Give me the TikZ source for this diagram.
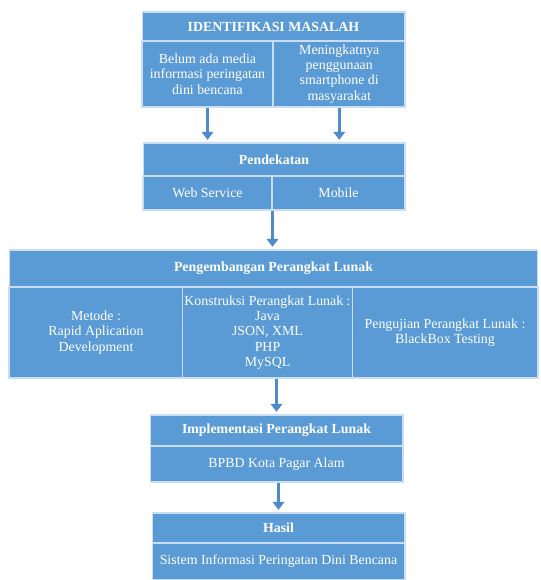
\documentclass[tikz,border=0pt]{standalone}
\usepackage{fontspec}
\setmainfont{Liberation Serif}
\usetikzlibrary{arrows.meta}
\definecolor{boxblue}{HTML}{5B9BD5}
\definecolor{boxline}{HTML}{C9DEF2}
\definecolor{arrowblue}{HTML}{4F8ACB}
\begin{document}
\begin{tikzpicture}[x=0.02cm,y=-0.02cm,
    cell/.style={draw=boxline,line width=0.6pt,fill=boxblue,text=white,
      inner sep=1pt,align=center,font=\fontsize{7.9}{8.7}\selectfont},
    head/.style={cell,font=\fontsize{7.9}{8.7}\selectfont\bfseries},
    flow/.style={draw=arrowblue,line width=1.6pt,shorten >=1.5pt,
      -{Triangle[width=6.5pt,length=4.5pt]}}]
        \useasboundingbox (0,0) rectangle (540,580);
        % identifikasi masalah
        \node[head,minimum width=5.26cm,minimum height=0.58cm] (idhead) at (273.5,26.5) {IDENTIFIKASI MASALAH};
        \node[cell,minimum width=2.62cm,minimum height=1.32cm] (idleft) at (207.5,74) {Belum ada media\\informasi peringatan\\dini bencana};
        \node[cell,minimum width=2.63cm,minimum height=1.32cm] (idright) at (339.25,74) {Meningkatnya\\penggunaan\\smartphone di\\masyarakat};
        % pendekatan
        \node[head,minimum width=5.24cm,minimum height=0.66cm] (pdhead) at (274,159.5) {Pendekatan};
        \node[cell,minimum width=2.58cm,minimum height=0.68cm] (pdleft) at (207.5,193) {Web Service};
        \node[cell,minimum width=2.66cm,minimum height=0.68cm] (pdright) at (338.5,193) {Mobile};
        % pengembangan perangkat lunak
        \node[head,minimum width=10.58cm,minimum height=0.74cm] (pghead) at (273.5,268.5) {Pengembangan Perangkat Lunak};
        \node[cell,minimum width=3.48cm,minimum height=1.82cm] (pgleft) at (96,332.5) {Metode :\\Rapid Aplication\\Development};
        \node[cell,minimum width=3.38cm,minimum height=1.82cm] (pgmid) at (267.5,332.5) {Konstruksi Perangkat Lunak :\\Java\\JSON, XML\\PHP\\MySQL};
        \node[cell,minimum width=3.72cm,minimum height=1.82cm] (pgright) at (445,332.5) {Pengujian Perangkat Lunak :\\BlackBox Testing};
        % implementasi
        \node[head,minimum width=5.06cm,minimum height=0.62cm] (imhead) at (276.5,430.5) {Implementasi Perangkat Lunak};
        \node[cell,minimum width=5.06cm,minimum height=0.72cm] (imbody) at (276.5,464) {BPBD Kota Pagar Alam};
        % hasil
        \node[head,minimum width=5.06cm,minimum height=0.6cm] (hshead) at (278.5,528) {Hasil};
        \node[cell,minimum width=5.06cm,minimum height=0.74cm] (hsbody) at (278.5,561.5) {Sistem Informasi Peringatan Dini Bencana};
        % panah
        \draw[flow] (idleft.south) -- (idleft.south |- pdhead.north);
        \draw[flow] (idright.south) -- (idright.south |- pdhead.north);
        \draw[flow] (pdleft.south east) -- (pdleft.south east |- pghead.north);
        \draw[flow] (imhead.north |- pgmid.south) -- (imhead.north);
        \draw[flow] (hshead.north |- imbody.south) -- (hshead.north);
      \end{tikzpicture}
\end{document}
